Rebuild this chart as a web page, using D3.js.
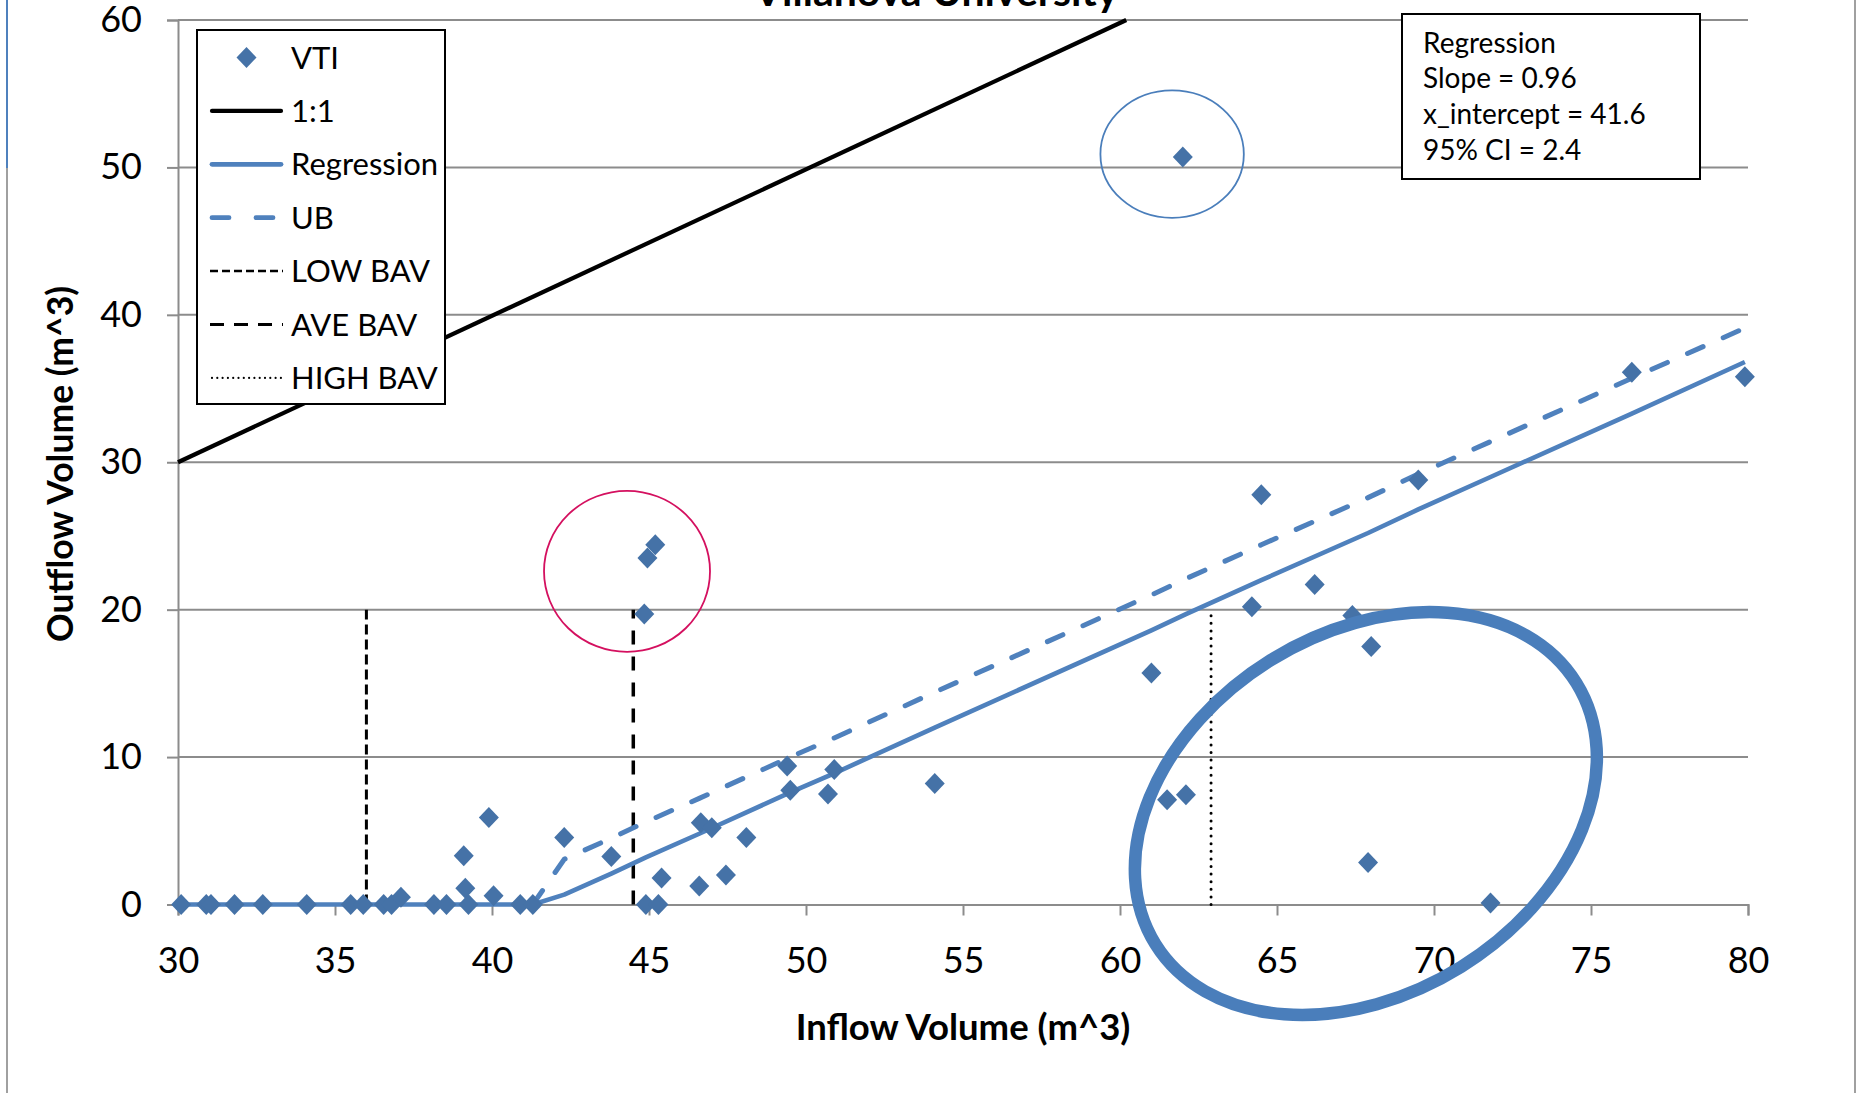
<!DOCTYPE html>
<html>
<head>
<meta charset="utf-8">
<script src="https://cdn.jsdelivr.net/npm/d3@7/dist/d3.min.js"></script>
<style>
  body { margin: 0; background: #fff; }
  svg { display: block; font-family: Lato, "Open Sans", sans-serif; }
</style>
</head>
<body>
<div id="chart"></div>
<script>
var vtiX = [30.1, 30.9, 31.05, 31.8, 32.7, 34.1, 35.5, 35.9, 36.55, 36.8, 37.1, 38.15, 38.55, 39.1, 39.15, 39.25,
    39.9, 40.05, 40.9, 41.3, 42.3, 43.8, 44.85, 44.95, 45.2, 44.9, 45.3, 45.4, 46.6, 46.65, 47.0, 47.45, 48.1,
    49.4, 49.5, 50.7, 50.9, 54.1, 61.0, 61.5, 62.1, 62.0, 64.2, 64.5, 66.2, 67.4, 68.0, 67.9, 69.5, 71.8, 76.3, 79.9];
var vtiY = [0, 0, 0, 0, 0, 0, 0, 0, 0, 0, 0.5, 0, 0, 3.3, 1.1, 0,
    5.9, 0.6, 0, 0, 4.55, 3.25, 19.7, 23.5, 24.4, 0, 0, 1.8, 1.25, 5.55, 5.2, 2.0, 4.55,
    9.4, 7.75, 7.5, 9.15, 8.2, 15.7, 7.1, 7.45, 50.7, 20.2, 27.8, 21.7, 19.6, 17.5, 2.85, 28.8, 0.1, 36.1, 35.8];

// regression and upper bound curves
var regX = [30, 41.3, 42.3, 43.8, 44.9, 46.6, 49.5, 50.9, 54.1, 61.0, 62.1, 64.5, 67.9, 69.5, 71.8, 76.3, 79.9];
var regY = [0, 0, 0.67, 2.1, 3.2, 4.8, 7.6, 8.9, 12.0, 18.6, 19.7, 22.0, 25.2, 26.8, 29.0, 33.3, 36.8];
var ubX = [41.3, 42.3, 43.8, 44.9, 46.6, 49.5, 50.9, 54.1, 61.0, 62.1, 64.5, 67.9, 69.5, 71.8, 76.3, 79.9];
var ubY = [0, 3.07, 4.5, 5.6, 7.2, 10.0, 11.3, 14.4, 21.0, 22.1, 24.4, 27.6, 29.2, 31.4, 35.7, 39.1];

var oneX = [30, 60.2];
var oneY = [30, 60];

// BAV markers
var bavNames = ["LOW BAV", "AVE BAV", "HIGH BAV"];
var bavX = [36, 44.5, 62.9];
var bavTop = [20, 20, 20];

var xTicks = [30, 35, 40, 45, 50, 55, 60, 65, 70, 75, 80];
var yTicks = [0, 10, 20, 30, 40, 50, 60];

var statLines = ["Regression", "Slope = 0.96", "x_intercept = 41.6", "95% CI = 2.4"];

var w = 1866, h = 1093;
var ptColor = "#4572a7", lineColor = "#4f81bd", gridColor = "#8c8c8c";

var svg = d3.select("#chart").append("svg")
    .attr("width", w)
    .attr("height", h);

// chart area border (left / right)
svg.append("line").attr("x1", 7).attr("x2", 7).attr("y1", 168).attr("y2", h)
    .attr("stroke", "#a0a0a0").attr("stroke-width", 2);
svg.append("line").attr("x1", 7).attr("x2", 7).attr("y1", 0).attr("y2", 168)
    .attr("stroke", "#4f81bd").attr("stroke-width", 2);
svg.append("line").attr("x1", 1855).attr("x2", 1855).attr("y1", 0).attr("y2", h)
    .attr("stroke", "#a0a0a0").attr("stroke-width", 2);

var x = d3.scaleLinear().domain([30, 80]).range([178, 1748]);
var y = d3.scaleLinear().domain([0, 60]).range([904.5, 20]);

// title, mostly cut off by the top edge
svg.append("text")
    .attr("x", 936)
    .attr("y", 6)
    .attr("text-anchor", "middle")
    .style("font-size", "41px")
    .attr("font-weight", "bold")
    .text("Villanova University");

// gridlines
svg.append("g").selectAll("line")
    .data(yTicks.filter(function(d) { return d > 0; }))
    .enter().append("line")
    .attr("x1", x(30)).attr("x2", x(80))
    .attr("y1", function(d) { return y(d); })
    .attr("y2", function(d) { return y(d); })
    .attr("stroke", gridColor).attr("stroke-width", 2);

// axes
var xAxis = svg.append("g")
    .attr("transform", "translate(0," + y(0) + ")")
    .call(d3.axisBottom(x).tickValues(xTicks).tickSize(11).tickPadding(32).tickFormat(d3.format("d")));
var yAxis = svg.append("g")
    .attr("transform", "translate(" + x(30) + ",0)")
    .call(d3.axisLeft(y).tickValues(yTicks).tickSize(11).tickPadding(25).tickFormat(d3.format("d")));

[xAxis, yAxis].forEach(function(ax) {
    ax.select(".domain").attr("stroke", gridColor).attr("stroke-width", 2);
    ax.selectAll(".tick line").attr("stroke", gridColor).attr("stroke-width", 2);
    ax.selectAll(".tick text")
        .attr("fill", "#000")
        .style("font-size", "36px")
        .style("font-family", "Lato, 'Open Sans', sans-serif");
});

// axis titles
svg.append("text")
    .attr("x", 963)
    .attr("y", 1040)
    .attr("text-anchor", "middle")
    .style("font-size", "36.5px")
    .attr("font-weight", "bold")
    .text("Inflow Volume (m^3)");

svg.append("text")
    .attr("transform", "translate(73,464) rotate(-90)")
    .attr("text-anchor", "middle")
    .style("font-size", "35.5px")
    .attr("font-weight", "bold")
    .text("Outflow Volume (m^3)");

function pairs(xs, ys) {
    return xs.map(function(d, i) { return [d, ys[i]]; });
}

var line = d3.line()
    .x(function(d) { return x(d[0]); })
    .y(function(d) { return y(d[1]); });

// BAV verticals
var bavStyle = [
    { dash: "10 5", width: 3, cap: "butt" },
    { dash: "14 12", width: 3.5, cap: "butt" },
    { dash: "0 7.6", width: 3, cap: "round" }
];
svg.append("g").selectAll("line")
    .data(bavX)
    .enter().append("line")
    .attr("x1", function(d) { return x(d); })
    .attr("x2", function(d) { return x(d); })
    .attr("y1", y(0))
    .attr("y2", function(d, i) { return y(bavTop[i]); })
    .attr("stroke", "#000")
    .attr("stroke-width", function(d, i) { return bavStyle[i].width; })
    .attr("stroke-dasharray", function(d, i) { return bavStyle[i].dash; })
    .attr("stroke-linecap", function(d, i) { return bavStyle[i].cap; });

// 1:1 line
svg.append("path")
    .datum(pairs(oneX, oneY))
    .attr("d", line)
    .attr("fill", "none")
    .attr("stroke", "#000")
    .attr("stroke-width", 4.2);

// regression + UB
svg.append("path")
    .datum(pairs(regX, regY))
    .attr("d", line)
    .attr("fill", "none")
    .attr("stroke", lineColor)
    .attr("stroke-width", 4.6)
    .attr("stroke-linejoin", "round");

svg.append("path")
    .datum(pairs(ubX, ubY))
    .attr("d", line)
    .attr("fill", "none")
    .attr("stroke", lineColor)
    .attr("stroke-width", 5)
    .attr("stroke-linecap", "round")
    .attr("stroke-dasharray", "17 22");

// VTI diamonds
var diamond = "M0,-10.5L10,0L0,10.5L-10,0Z";
svg.append("g").selectAll("path")
    .data(pairs(vtiX, vtiY))
    .enter().append("path")
    .attr("d", diamond)
    .attr("transform", function(d) { return "translate(" + x(d[0]) + "," + y(d[1]) + ")"; })
    .attr("fill", ptColor);

// hand-drawn annotation ellipses
svg.append("ellipse")
    .attr("cx", x(44.3)).attr("cy", y(22.6))
    .attr("rx", 83).attr("ry", 80.5)
    .attr("fill", "none").attr("stroke", "#d4105f").attr("stroke-width", 1.8);

svg.append("ellipse")
    .attr("cx", x(61.66)).attr("cy", y(50.9))
    .attr("rx", 71.7).attr("ry", 63.7)
    .attr("fill", "none").attr("stroke", "#4a7ebb").attr("stroke-width", 1.8);

svg.append("ellipse")
    .attr("transform", "translate(" + x(67.83) + "," + y(6.17) + ") rotate(-31.8)")
    .attr("rx", 247.7).attr("ry", 180.5)
    .attr("fill", "none").attr("stroke", "#4a7ebb").attr("stroke-width", 12.5);

// legend
var legendItems = [
    { name: "VTI", type: "marker" },
    { name: "1:1", type: "line", color: "#000", width: 4.2, dash: null, cap: "round" },
    { name: "Regression", type: "line", color: lineColor, width: 4.8, dash: null, cap: "round" },
    { name: "UB", type: "line", color: lineColor, width: 4.8, dash: "17 27", cap: "round" },
    { name: bavNames[0], type: "line", color: "#000", width: 2.5, dash: "8 4", cap: "butt" },
    { name: bavNames[1], type: "line", color: "#000", width: 3, dash: "14 10", cap: "butt" },
    { name: bavNames[2], type: "line", color: "#000", width: 2.2, dash: "0 5.3", cap: "round" }
];

var legend = svg.append("g").attr("transform", "translate(197,30)");
legend.append("rect")
    .attr("width", 248).attr("height", 374)
    .attr("fill", "#fff").attr("stroke", "#000").attr("stroke-width", 2);

var rows = legend.selectAll(".row")
    .data(legendItems)
    .enter().append("g")
    .attr("class", "row")
    .attr("transform", function(d, i) { return "translate(0," + (27.5 + i * 53.4) + ")"; });

rows.filter(function(d) { return d.type === "marker"; })
    .append("path")
    .attr("d", diamond)
    .attr("transform", "translate(49.5,0)")
    .attr("fill", ptColor);

rows.filter(function(d) { return d.type === "line"; })
    .append("line")
    .attr("x1", function(d) { return d.cap === "round" ? 15 : 13; })
    .attr("x2", function(d) { return d.cap === "round" ? 84 : 86; })
    .attr("stroke", function(d) { return d.color; })
    .attr("stroke-width", function(d) { return d.width; })
    .attr("stroke-linecap", function(d) { return d.cap; })
    .attr("stroke-dasharray", function(d) { return d.dash; });

rows.append("text")
    .attr("x", 94)
    .attr("y", 11)
    .style("font-size", "31px")
    .text(function(d) { return d.name; });

// regression stats box
var stat = svg.append("g").attr("transform", "translate(1402,14)");
stat.append("rect")
    .attr("width", 298).attr("height", 165)
    .attr("fill", "#fff").attr("stroke", "#000").attr("stroke-width", 2);
stat.selectAll("text")
    .data(statLines)
    .enter().append("text")
    .attr("x", 21)
    .attr("y", function(d, i) { return 38.5 + i * 35.7; })
    .style("font-size", "28px")
    .text(function(d) { return d; });
</script>
</body>
</html>
